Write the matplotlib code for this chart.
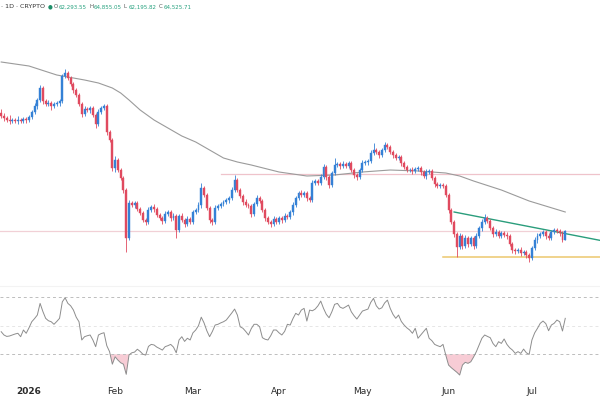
import numpy as np
import pandas as pd
import matplotlib
matplotlib.use("Agg")
import matplotlib.pyplot as plt
from matplotlib.transforms import blended_transform_factory

# ---------------- data (prices in thousands USD) ----------------
start_date = "2025-12-22"
first_open = 94.0
closes = [
    93.25, 92.75, 92.25, 92.0, 92.25, 92.0, 92.25, 92.0, 92.5, 92.25,
    93.0, 94.25, 95.75, 97.25, 100.25, 97.0, 96.25, 96.5, 95.75, 96.25,
    96.5, 97.0, 103.25, 104.0, 102.75, 101.25, 99.75, 98.5, 96.25, 93.75,
    95.0, 94.75, 95.25, 93.5, 91.25, 94.25, 95.25, 95.75, 89.25, 87.25,
    80.25, 82.25, 79.75, 77.75, 74.75, 62.75, 71.5, 71.0, 71.5, 70.0,
    69.0, 67.25, 66.75, 69.75, 70.5, 70.0, 68.5, 67.75, 67.0, 68.75,
    69.25, 67.75, 68.25, 64.75, 68.25, 67.25, 66.25, 67.5, 66.75, 69.25,
    69.75, 71.0, 75.25, 73.5, 70.25, 67.25, 66.75, 70.25, 70.75, 71.25,
    71.75, 72.25, 72.75, 74.75, 77.25, 74.75, 73.25, 71.75, 71.0, 70.75,
    68.75, 71.25, 72.75, 72.0, 69.75, 67.75, 66.75, 66.25, 67.5, 66.75,
    67.75, 67.25, 68.25, 68.0, 69.25, 71.0, 72.75, 74.0, 73.5, 74.0,
    72.75, 72.25, 76.5, 77.0, 76.5, 78.0, 80.5, 78.0, 76.0, 79.0,
    81.0, 81.25, 80.75, 81.25, 80.75, 81.5, 79.75, 78.5, 78.0, 79.75,
    81.5, 81.75, 82.0, 84.0, 84.75, 84.25, 83.5, 84.75, 86.0, 85.5,
    84.25, 83.5, 82.75, 83.0, 81.5, 80.5, 79.75, 79.75, 79.5, 80.0,
    80.25, 79.25, 78.25, 79.25, 79.5, 77.75, 76.25, 75.75, 76.0, 75.75,
    73.5, 69.75, 66.75, 63.75, 60.5, 63.25, 60.75, 62.75, 61.25, 62.75,
    60.75, 63.25, 65.25, 66.75, 67.75, 67.0, 65.25, 63.75, 64.25, 63.25,
    64.0, 63.5, 63.25, 61.25, 59.75, 59.5, 59.75, 59.0, 59.25, 58.5,
    57.75, 60.25, 62.25, 63.25, 63.75, 64.25, 63.25, 62.75, 64.25, 64.75,
    64.5, 64.0, 62.29, 64.53,
]
upper_wick = [
    1.0, 0.8, 0.5, 1.2, 0.6, 0.5, 1.0, 0.4, 0.6, 0.5,
    0.6, 0.5, 0.7, 0.6, 0.75, 0.5, 0.6, 0.8, 0.5, 0.6,
    0.5, 0.4, 0.5, 1.0, 0.6, 0.5, 0.4, 0.6, 0.5, 0.4,
    0.8, 0.5, 0.6, 0.5, 0.4, 0.7, 0.5, 0.6, 0.5, 0.6,
    0.5, 0.9, 0.6, 0.5, 0.6, 0.5, 0.7, 0.5, 0.6, 0.5,
    0.6, 0.5, 0.4, 0.8, 0.6, 0.7, 0.5, 0.6, 0.5, 0.8,
    0.6, 0.5, 0.7, 0.5, 0.6, 0.8, 0.5, 0.7, 0.5, 0.6,
    0.5, 0.8, 1.25, 0.6, 0.5, 0.4, 0.6, 0.7, 0.5, 0.6,
    0.5, 0.6, 0.5, 0.8, 1.25, 0.5, 0.6, 0.5, 0.7, 0.5,
    0.4, 0.6, 0.8, 0.5, 0.4, 0.5, 0.6, 0.5, 0.7, 0.5,
    0.6, 0.5, 0.7, 0.5, 0.6, 0.8, 0.6, 0.5, 0.7, 0.6,
    0.5, 0.6, 0.8, 0.5, 0.6, 0.7, 0.75, 0.5, 0.4, 0.6,
    1.75, 0.6, 0.5, 0.7, 0.5, 0.6, 0.5, 0.4, 0.5, 0.6,
    0.8, 0.5, 0.6, 0.7, 1.75, 0.5, 0.6, 0.5, 0.8, 0.6,
    0.5, 0.4, 0.5, 0.6, 0.5, 0.4, 0.6, 0.5, 0.7, 0.6,
    0.5, 0.6, 0.5, 0.7, 0.6, 0.5, 0.4, 0.6, 0.5, 0.6,
    0.5, 0.4, 0.5, 0.6, 0.5, 0.8, 0.6, 0.7, 0.5, 0.6,
    0.5, 0.7, 0.6, 0.8, 1.0, 0.5, 0.6, 0.5, 0.7, 0.5,
    0.6, 0.5, 0.7, 0.5, 0.4, 0.6, 0.5, 0.7, 0.5, 0.6,
    0.4, 0.6, 0.7, 0.8, 0.5, 0.6, 0.5, 0.7, 0.6, 0.5,
    0.6, 0.5, 0.5, 0.33,
]
lower_wick = [
    0.6, 0.8, 0.5, 0.7, 0.5, 0.6, 0.8, 0.5, 0.6, 0.7,
    0.5, 0.6, 0.5, 0.7, 0.5, 0.8, 0.6, 0.5, 1.0, 0.6,
    0.5, 0.7, 0.5, 0.4, 0.6, 0.5, 0.7, 0.5, 0.6, 0.8,
    0.5, 0.6, 0.7, 0.5, 1.0, 0.5, 0.6, 0.5, 0.7, 0.6,
    0.8, 1.0, 0.6, 0.5, 0.7, 3.5, 0.6, 0.5, 0.7, 0.5,
    0.6, 0.5, 0.8, 0.6, 0.5, 0.7, 0.5, 0.6, 0.8, 0.5,
    0.6, 0.7, 0.5, 2.0, 0.6, 0.5, 0.7, 0.5, 0.6, 0.5,
    0.6, 0.5, 0.7, 0.5, 0.6, 0.7, 0.8, 0.5, 0.6, 0.5,
    0.6, 0.5, 0.7, 0.5, 0.6, 0.5, 0.6, 0.7, 0.5, 0.6,
    0.7, 0.5, 0.6, 0.5, 0.6, 0.7, 0.5, 0.75, 0.6, 0.5,
    0.6, 0.7, 0.5, 0.6, 0.5, 0.7, 0.6, 0.5, 0.6, 0.5,
    0.7, 0.6, 0.5, 0.6, 0.5, 0.6, 0.5, 0.7, 0.8, 0.5,
    0.6, 0.5, 0.7, 0.5, 0.6, 0.5, 0.6, 0.7, 0.8, 0.5,
    0.6, 0.5, 0.7, 0.5, 0.6, 0.5, 0.7, 0.6, 0.5, 0.6,
    0.6, 0.7, 0.5, 0.6, 0.8, 0.5, 0.6, 0.5, 0.7, 0.6,
    0.5, 0.7, 0.6, 0.8, 0.5, 0.6, 0.7, 0.5, 0.6, 0.5,
    0.6, 0.7, 0.5, 0.8, 2.5, 0.6, 0.8, 0.5, 0.7, 0.6,
    0.8, 0.6, 0.5, 0.7, 0.5, 0.6, 0.5, 0.7, 0.6, 0.5,
    0.6, 0.5, 0.7, 0.6, 0.8, 0.7, 0.6, 0.8, 0.5, 0.7,
    1.0, 0.6, 0.5, 0.7, 0.5, 0.6, 0.7, 0.5, 0.6, 0.5,
    0.6, 0.7, 0.6, 0.09,
]
rsi = [
    45.8, 43.5, 42.5, 42.8, 43.5, 44.2, 44.7, 42.3, 47.0, 44.7,
    48.5, 52.8, 55.0, 57.5, 65.7, 60.0, 55.2, 53.5, 52.8, 51.0,
    53.0, 55.2, 66.8, 69.6, 65.7, 64.0, 61.0, 56.0, 52.8, 40.0,
    42.3, 43.0, 43.5, 40.0, 35.3, 43.5, 44.5, 45.1, 36.0, 31.8,
    23.0, 28.2, 25.9, 24.0, 23.0, 15.9, 29.5, 31.0, 31.5, 33.5,
    32.0, 30.0, 29.4, 35.5, 36.9, 36.5, 35.0, 34.0, 32.9, 35.3,
    36.0, 36.9, 35.0, 31.0, 40.0, 42.3, 39.0, 41.2, 40.0, 45.0,
    47.0, 50.0, 56.0, 52.0, 46.5, 42.3, 46.0, 50.5, 51.0, 52.0,
    52.8, 54.0, 56.5, 59.0, 61.7, 57.5, 49.3, 48.2, 46.0, 43.5,
    48.0, 51.0, 51.0, 49.3, 41.6, 40.5, 40.0, 43.0, 47.0, 47.0,
    45.0, 43.5, 46.0, 51.0, 50.5, 55.0, 58.7, 57.5, 61.0, 62.2,
    53.3, 61.0, 60.5, 61.7, 64.0, 67.3, 62.2, 58.0, 55.6, 59.8,
    65.0, 65.7, 63.0, 62.2, 63.3, 64.5, 59.8, 57.0, 54.7, 57.5,
    60.3, 61.0, 61.7, 66.4, 69.2, 64.0, 61.7, 62.6, 66.0, 68.0,
    62.2, 58.0, 55.2, 57.5, 53.0, 50.5, 48.5, 47.0, 44.7, 48.2,
    41.2, 43.5, 45.8, 48.2, 41.2, 39.5, 36.9, 36.0, 35.3, 36.9,
    29.4, 22.4, 20.5, 18.9, 17.3, 15.4, 22.4, 24.3, 23.6, 24.7,
    28.0, 31.8, 36.5, 41.2, 43.5, 42.5, 41.6, 37.5, 35.3, 38.8,
    37.6, 40.7, 36.9, 34.5, 32.9, 30.6, 31.8, 30.6, 33.6, 31.0,
    29.9, 40.0, 45.0, 48.2, 51.7, 53.3, 51.5, 46.5, 50.5, 51.7,
    54.0, 52.8, 46.3, 55.2,
]
ma_dates = ["2025-12-22", "2026-01-01", "2026-01-11", "2026-01-21", "2026-01-26",
            "2026-01-31", "2026-02-03", "2026-02-06", "2026-02-10", "2026-02-15",
            "2026-02-20", "2026-02-25", "2026-03-02", "2026-03-07", "2026-03-12",
            "2026-03-17", "2026-03-22", "2026-04-01", "2026-04-11", "2026-04-21",
            "2026-05-01", "2026-05-11", "2026-05-21", "2026-05-31", "2026-06-05",
            "2026-06-10", "2026-06-20", "2026-06-30", "2026-07-13"]
ma_values = [106.75, 105.75, 103.5, 102.25, 101.5,
             100.25, 99.0, 97.25, 94.75, 92.25,
             90.25, 88.25, 86.75, 84.75, 82.75,
             81.75, 81.0, 79.25, 78.25, 78.5,
             79.25, 79.75, 79.5, 79.0, 78.25,
             77.0, 74.75, 72.0, 69.25]
resistance_level = 78.75
resistance_from = "2026-03-11"
mid_level = 64.5
support_level = 58.0
support_from = "2026-05-30"
trend_start = ("2026-06-03", 69.25)
trend_end = ("2026-07-13", 63.85)
month_ticks = ["2026-01-01", "2026-02-01", "2026-03-01", "2026-04-01",
               "2026-05-01", "2026-06-01", "2026-07-01"]
month_labels = ["2026", "Feb", "Mar", "Apr", "May", "Jun", "Jul"]
header_ohlc = [("O", "62,293.55"), ("H", "64,855.05"), ("L", "62,195.82"), ("C", "64,525.71")]

# ---------------- derived ----------------
n = len(closes)
dates = pd.date_range(start_date, periods=n, freq="D")
x = np.arange(n)
closes_a = np.array(closes)
opens_a = np.array([first_open] + closes[:-1])
highs = np.maximum(opens_a, closes_a) + np.array(upper_wick)
lows = np.minimum(opens_a, closes_a) - np.array(lower_wick)
up = closes_a >= opens_a


def day_index(d):
    return (pd.Timestamp(d) - dates[0]).days


UP_C = "#3481d6"
DN_C = "#e04a5f"

fig = plt.figure(figsize=(6, 4), dpi=100)
W, H = 600, 400
XL = (-0.43, 215.5)

# main axes: pixel rows 18..285
ax = fig.add_axes([0, 1 - 285 / H, 1, (285 - 18) / H])
ax.set_xlim(*XL)
ax.set_ylim(51.0, 117.75)
ax.axis("off")

# levels
ax.plot([day_index(resistance_from), XL[1]], [resistance_level] * 2, color="#efc3cb", lw=0.9, zorder=1)
ax.plot([XL[0], XL[1]], [mid_level] * 2, color="#f1d0d6", lw=0.9, zorder=1)
ax.plot([day_index(support_from), XL[1]], [support_level] * 2, color="#ecc76e", lw=1.1, zorder=1)
tx0, ty0 = day_index(trend_start[0]), trend_start[1]
tx1, ty1 = day_index(trend_end[0]), trend_end[1]
slope = (ty1 - ty0) / (tx1 - tx0)
ax.plot([tx0, XL[1]], [ty0, ty0 + slope * (XL[1] - tx0)], color="#2a9d7c", lw=1.0, zorder=1)

# moving average
ma_x = [day_index(d) for d in ma_dates]
ax.plot(ma_x, ma_values, color="#9b9b9b", lw=0.8, zorder=2)

# candles
colors = np.where(up, UP_C, DN_C)
ax.vlines(x, lows, highs, colors=colors, lw=0.6, zorder=3)
body = closes_a - opens_a
ax.bar(x, body, bottom=opens_a, width=0.7, color=colors, edgecolor=colors, linewidth=0.3, zorder=4)

# ---------------- RSI panel: rows 286..380 ----------------
ar = fig.add_axes([0, 1 - 380 / H, 1, (380 - 286) / H])
ar.set_xlim(*XL)
ar.set_ylim(11.9, 77.9)
ar.axis("off")
rsi_a = np.array(rsi)
ar.axhline(70, color="#bdbdbd", lw=0.7, ls=(0, (3, 3)))
ar.axhline(50, color="#e6e6e6", lw=0.7, ls=(0, (3, 3)))
ar.axhline(30, color="#bdbdbd", lw=0.7, ls=(0, (3, 3)))
ar.fill_between(x, rsi_a, 30, where=rsi_a < 30, interpolate=True, color="#f2a3b3", alpha=0.55, lw=0)
ar.plot(x, rsi_a, color="#8d8d8d", lw=0.7)

# separator
fig.add_artist(plt.Line2D([0, 1], [1 - 286 / H, 1 - 286 / H], color="#f3f3f3", lw=0.8))

# month labels
tr = blended_transform_factory(ar.transData, fig.transFigure)
for d, lab in zip(month_ticks, month_labels):
    ar.text(day_index(d), 1 - 392 / H, lab, transform=tr, ha="center", va="center",
            fontsize=6.5, color="#2b2b2b", fontweight="bold" if lab == "2026" else "normal")

# header
hy = 1 - 7 / H
fig.text(1 / W, hy, "· 1D · CRYPTO", fontsize=4.6, color="#333333", va="center", ha="left")
fig.text(50 / W, hy, "●", fontsize=4.0, color="#1f8f6a", va="center", ha="center")
hx = [54, 89, 124, 159]
for (k, v), px in zip(header_ohlc, hx):
    fig.text(px / W, hy, k, fontsize=4.0, color="#555555", va="center", ha="left")
    fig.text((px + 4.9) / W, hy, v, fontsize=4.0, color="#26a17e", va="center", ha="left")

fig.savefig("out.png", dpi=100, facecolor="white")
